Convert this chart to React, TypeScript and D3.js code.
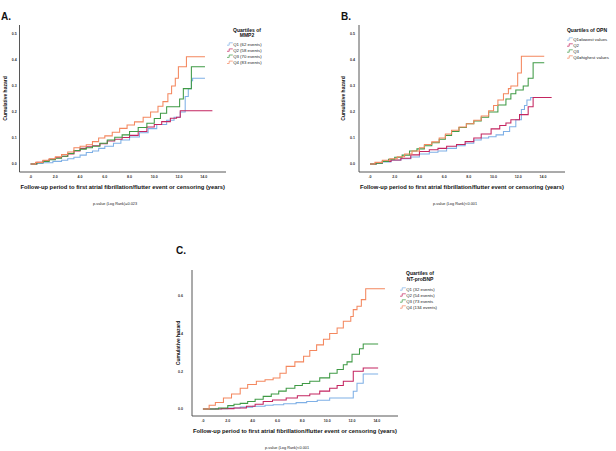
import * as React from 'react'
import * as d3 from 'd3'

type Pt = [number, number];

const seriesNames = ['Q1', 'Q2', 'Q3', 'Q4'];
const colors = ['#7fb0e6', '#c42560', '#3f9a45', '#f4875e'];
const xTicks = [0, 2, 4, 6, 8, 10, 12, 14];
const xTickLabels = ['.0', '2.0', '4.0', '6.0', '8.0', '10.0', '12.0', '14.0'];

// Panel A — MMP2
const mmp2Q1: Pt[] = [[0,0],[0.5,0.002],[1,0.005],[1.8,0.01],[2.5,0.014],[3,0.02],[3.5,0.026],[4,0.034],[4.5,0.044],[5,0.05],[5.5,0.06],[6,0.068],[6.7,0.08],[7.3,0.092],[8,0.104],[8.8,0.12],[9.5,0.136],[10.2,0.152],[11,0.168],[11.6,0.18],[12.1,0.2],[12.5,0.26],[12.75,0.29],[13,0.32],[13.1,0.33],[14.1,0.33]];
const mmp2Q2: Pt[] = [[0,0],[0.5,0.006],[1,0.012],[1.5,0.018],[2,0.024],[2.5,0.03],[3,0.038],[3.5,0.05],[4,0.06],[4.5,0.066],[5,0.07],[5.6,0.078],[6.2,0.088],[6.8,0.095],[7.4,0.102],[8,0.11],[8.7,0.125],[9.4,0.142],[10,0.152],[10.6,0.163],[11.3,0.176],[11.8,0.18],[12.1,0.205],[14.7,0.205]];
const mmp2Q3: Pt[] = [[0,0],[0.5,0.005],[1,0.01],[1.5,0.016],[2,0.022],[2.5,0.03],[3,0.04],[3.5,0.052],[4,0.057],[4.5,0.062],[5,0.068],[5.6,0.08],[6.2,0.092],[6.8,0.103],[7.4,0.112],[8,0.125],[8.7,0.14],[9.4,0.157],[10,0.175],[10.5,0.195],[11,0.22],[12.05,0.25],[12.35,0.29],[13,0.374],[14.1,0.374]];
const mmp2Q4: Pt[] = [[0,0],[0.4,0.006],[1,0.014],[1.5,0.02],[2,0.028],[2.5,0.036],[3,0.046],[3.5,0.062],[4,0.068],[4.5,0.074],[5,0.086],[5.5,0.1],[6,0.108],[6.6,0.122],[7.2,0.137],[7.8,0.15],[8.4,0.162],[9.1,0.18],[9.7,0.2],[10.3,0.222],[10.7,0.24],[11.1,0.27],[11.4,0.3],[11.7,0.33],[11.95,0.374],[12.6,0.413],[14.1,0.413]];

// Panel B — OPN
const opnQ1: Pt[] = [[0,0],[0.5,0.003],[1,0.008],[1.7,0.014],[2.5,0.02],[3.3,0.027],[4,0.038],[4.8,0.045],[5.5,0.05],[6.2,0.06],[7,0.07],[7.7,0.08],[8.4,0.092],[9,0.1],[9.6,0.105],[10.2,0.112],[10.8,0.125],[11.3,0.143],[11.8,0.17],[12.25,0.21],[12.5,0.225],[12.7,0.246],[13,0.256],[14.1,0.256]];
const opnQ2: Pt[] = [[0,0],[0.5,0.004],[1,0.01],[1.7,0.015],[2.5,0.022],[3.3,0.035],[4,0.048],[4.8,0.055],[5.5,0.06],[6.2,0.068],[7,0.075],[7.7,0.086],[8.4,0.1],[9,0.115],[9.8,0.135],[10.5,0.148],[11,0.158],[11.4,0.17],[12.1,0.19],[12.8,0.22],[13.2,0.256],[14.7,0.256]];
const opnQ3: Pt[] = [[0,0],[0.5,0.003],[1,0.01],[1.5,0.018],[2,0.026],[2.6,0.034],[3.2,0.05],[3.8,0.058],[4.4,0.07],[5,0.082],[5.6,0.095],[6.1,0.11],[6.6,0.125],[7.2,0.14],[7.8,0.155],[8.4,0.165],[9,0.18],[9.6,0.2],[10.35,0.227],[11,0.25],[11.4,0.27],[11.8,0.285],[12.4,0.3],[12.8,0.33],[13.2,0.39],[14.1,0.39]];
const opnQ4: Pt[] = [[0,0],[0.4,0.006],[1,0.014],[1.6,0.02],[2.2,0.028],[2.8,0.038],[3.4,0.05],[4,0.062],[4.4,0.075],[5,0.085],[5.6,0.1],[6.1,0.115],[6.6,0.13],[7.2,0.142],[7.8,0.155],[8.4,0.168],[9,0.185],[9.6,0.205],[10,0.225],[10.35,0.246],[10.8,0.27],[11.2,0.29],[11.4,0.3],[11.95,0.35],[12.25,0.415],[14.1,0.415]];

// Panel C — NT-proBNP
const bnpQ1: Pt[] = [[0,0],[1,0.002],[2,0.005],[3,0.01],[4,0.015],[5,0.02],[5.65,0.023],[6.5,0.028],[7.5,0.034],[8.35,0.04],[9.2,0.046],[10.2,0.058],[12.1,0.094],[12.4,0.137],[12.9,0.186],[14.1,0.186]];
const bnpQ2: Pt[] = [[0,0],[1.5,0.002],[2.5,0.005],[3.5,0.015],[4.2,0.025],[4.85,0.04],[5.6,0.048],[6.7,0.058],[7.6,0.07],[8.6,0.08],[9.4,0.095],[10.2,0.11],[10.8,0.125],[11.3,0.147],[12.1,0.2],[12.9,0.217],[14.1,0.217]];
const bnpQ3: Pt[] = [[0,0],[1.25,0.005],[2,0.018],[2.5,0.025],[3,0.03],[3.6,0.04],[4.2,0.052],[4.85,0.067],[5.5,0.08],[6.1,0.095],[6.7,0.11],[7.4,0.125],[8,0.135],[8.6,0.147],[9.4,0.165],[10.2,0.19],[10.8,0.21],[11.3,0.235],[11.6,0.25],[12,0.29],[12.6,0.32],[12.9,0.345],[14.1,0.345]];
const bnpQ4: Pt[] = [[0,0],[0.5,0.02],[1,0.035],[1.65,0.058],[2.3,0.08],[3,0.11],[3.6,0.13],[4.3,0.147],[5,0.155],[5.65,0.164],[6.2,0.19],[6.7,0.226],[7.4,0.25],[8.1,0.28],[8.6,0.31],[9.15,0.34],[9.7,0.37],[10.2,0.4],[10.8,0.43],[11.3,0.465],[11.9,0.49],[12.1,0.527],[12.4,0.545],[12.75,0.58],[13.1,0.638],[14.65,0.638]];

const mmp2Legend = ['Q1 (62 events)', 'Q2 (58 events)', 'Q3 (70 events)', 'Q4 (83 events)'];
const opnLegend = ['Q1=lowest values', 'Q2', 'Q3', 'Q4=highest values'];
const bnpLegend = ['Q1 (32 events)', 'Q2 (54 events)', 'Q3 (73 events', 'Q4 (134 events)'];

const xTitle = 'Follow-up period to first atrial fibrillation/flutter event or censoring (years)';
const font = '"Liberation Sans", Arial, Helvetica, sans-serif';

interface PanelProps {
  label: string;
  labelX: number;
  labelY: number;
  left: number;
  right: number;
  top: number;
  bottom: number;
  xDomain: [number, number];
  yDomain: [number, number];
  yTicks: number[];
  yLabelGap: number;
  yTitleX: number;
  series: Pt[][];
  legendTitle: string[];
  legendItems: string[];
  legendX: number;
  legendTitleY: number;
  legendItemY: number;
  legendStep: number;
  pText: string;
  pX: number;
}

const Panel: React.FC<PanelProps> = (p) => {
  const x = d3.scaleLinear().domain(p.xDomain).range([p.left, p.right]);
  const y = d3.scaleLinear().domain(p.yDomain).range([p.bottom, p.top]);
  const line = d3.line<Pt>().x(d => x(d[0])).y(d => y(d[1])).curve(d3.curveStepAfter);
  const titleCx = (p.left + p.right) / 2;
  const yCy = (p.top + p.bottom) / 2;

  return (
    <g fontFamily={font}>
      <text x={p.labelX} y={p.labelY} fontSize={10} fontWeight="bold" fill="#111">{p.label}</text>
      {p.series.map((s, i) => (
        <path key={seriesNames[i]} d={line(s) || ''} fill="none" stroke={colors[i]} strokeWidth={1.05} />
      ))}
      <line x1={p.left} x2={p.left} y1={p.top} y2={p.bottom} stroke="#444" strokeWidth={0.9} />
      <line x1={p.left} x2={p.right} y1={p.bottom} y2={p.bottom} stroke="#444" strokeWidth={0.9} />
      {xTicks.map((t, i) => (
        <text key={t} x={x(t)} y={p.bottom + 5.5} fontSize={3.6} fontWeight="bold" textAnchor="middle" fill="#333">
          {xTickLabels[i]}
        </text>
      ))}
      {p.yTicks.map(t => (
        <text key={t} x={p.left - p.yLabelGap} y={y(t) + 1.3} fontSize={3.6} fontWeight="bold" textAnchor="end" fill="#333">
          {t.toFixed(1)}
        </text>
      ))}
      <text transform={`translate(${p.yTitleX},${yCy}) rotate(-90)`} fontSize={5} fontWeight="bold" textAnchor="middle" fill="#111">
        Cumulative hazard
      </text>
      <text x={titleCx} y={p.bottom + 17} fontSize={5} fontWeight="bold" textAnchor="middle" fill="#111"
        textLength={p.right - p.left - 2} lengthAdjust="spacingAndGlyphs">
        {xTitle}
      </text>
      <text x={p.pX} y={p.bottom + 33} fontSize={3.8} textAnchor="middle" fill="#222">{p.pText}</text>
      {p.legendTitle.map((t, i) => (
        <text key={t} x={p.legendX + 20} y={p.legendTitleY + i * 5.5} fontSize={5} fontWeight="bold" textAnchor="middle" fill="#111">{t}</text>
      ))}
      {p.legendItems.map((t, i) => {
        const ly = p.legendItemY + i * p.legendStep;
        return (
          <g key={t}>
            <path d={`M${p.legendX},${ly + 1.2}h2.2v-2.4h3.6`} fill="none" stroke={colors[i]} strokeWidth={0.7} />
            <text x={p.legendX + 6.2} y={ly + 1.5} fontSize={4.3} fill="#222">{t}</text>
          </g>
        );
      })}
    </g>
  );
};

const App: React.FC = () => {
  return (
    <svg width={616} height={451} style={{ position: 'absolute', left: 0, top: 0, background: '#fff' }}>
      <rect width={616} height={451} fill="#fff" />
      <Panel
        label="A." labelX={1} labelY={20}
        left={19.5} right={226} top={25} bottom={172}
        xDomain={[-0.9, 15.8]} yDomain={[-0.031, 0.535]}
        yTicks={[0, 0.1, 0.2, 0.3, 0.4, 0.5]} yLabelGap={2.8} yTitleX={6.5}
        series={[mmp2Q1, mmp2Q2, mmp2Q3, mmp2Q4]}
        legendTitle={['Quartiles of', 'MMP2']} legendItems={mmp2Legend}
        legendX={227} legendTitleY={31.5} legendItemY={44} legendStep={6.1}
        pText="p-value (Log Rank)=0.023" pX={115}
      />
      <Panel
        label="B." labelX={341} labelY={20}
        left={359} right={565} top={25} bottom={172}
        xDomain={[-0.89, 15.78]} yDomain={[-0.031, 0.535]}
        yTicks={[0, 0.1, 0.2, 0.3, 0.4, 0.5]} yLabelGap={4} yTitleX={345}
        series={[opnQ1, opnQ2, opnQ3, opnQ4]}
        legendTitle={['Quartiles of OPN']} legendItems={opnLegend}
        legendX={567} legendTitleY={31.5} legendItemY={39} legendStep={6}
        pText="p-value (Log Rank)<0.001" pX={455}
      />
      <Panel
        label="C." labelX={176} labelY={254}
        left={192} right={398} top={270} bottom={416}
        xDomain={[-0.88, 15.7]} yDomain={[-0.037, 0.737]}
        yTicks={[0, 0.2, 0.4, 0.6]} yLabelGap={9} yTitleX={179.5}
        series={[bnpQ1, bnpQ2, bnpQ3, bnpQ4]}
        legendTitle={['Quartiles of', 'NT-proBNP']} legendItems={bnpLegend}
        legendX={400} legendTitleY={275} legendItemY={289} legendStep={6}
        pText="p-value (Log Rank)<0.001" pX={287}
      />
    </svg>
  );
};

export default App;
